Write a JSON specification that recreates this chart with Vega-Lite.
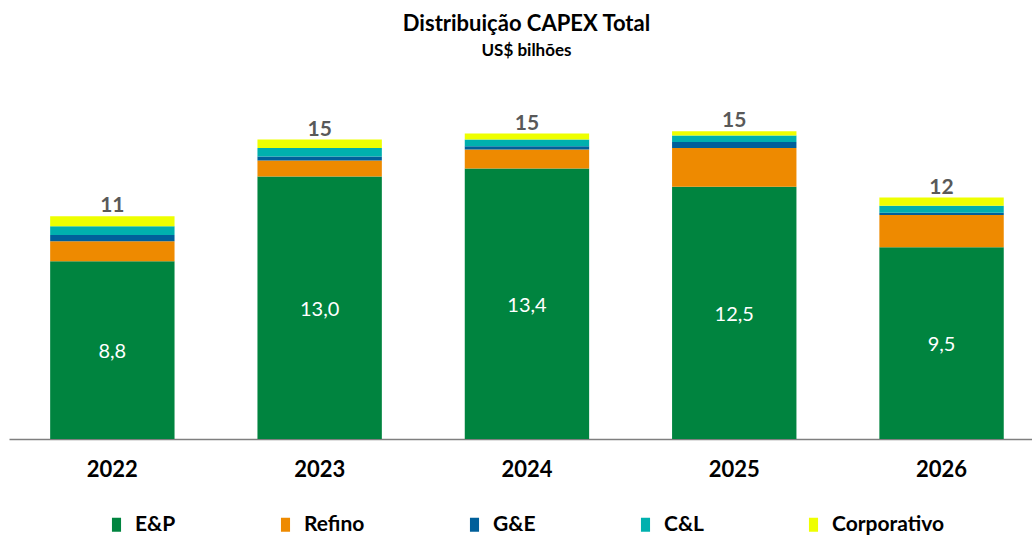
{
  "$schema": "https://vega.github.io/schema/vega-lite/v6.json",
  "autosize": "none",
  "width": 1023,
  "height": 323,
  "padding": {"left": 9, "top": 116, "right": 0, "bottom": 96},
  "background": "white",
  "title": {
    "text": "Distribuição CAPEX Total",
    "subtitle": "US$ bilhões",
    "anchor": "middle",
    "dx": 6,
    "offset": 50,
    "font": "Lato",
    "fontSize": 22,
    "fontWeight": "bold",
    "color": "#000000",
    "subtitleFont": "Lato",
    "subtitleFontSize": 17,
    "subtitleFontWeight": "bold",
    "subtitleColor": "#000000",
    "subtitlePadding": 7
  },
  "data": {
    "values": [
      {"ano": "2022", "seg": "E&P", "valor": 8.8},
      {"ano": "2022", "seg": "Refino", "valor": 1.0},
      {"ano": "2022", "seg": "G&E", "valor": 0.31},
      {"ano": "2022", "seg": "C&L", "valor": 0.43},
      {"ano": "2022", "seg": "Corporativo", "valor": 0.5},
      {"ano": "2023", "seg": "E&P", "valor": 13.0},
      {"ano": "2023", "seg": "Refino", "valor": 0.8},
      {"ano": "2023", "seg": "G&E", "valor": 0.2},
      {"ano": "2023", "seg": "C&L", "valor": 0.42},
      {"ano": "2023", "seg": "Corporativo", "valor": 0.41},
      {"ano": "2024", "seg": "E&P", "valor": 13.4},
      {"ano": "2024", "seg": "Refino", "valor": 0.94},
      {"ano": "2024", "seg": "G&E", "valor": 0.16},
      {"ano": "2024", "seg": "C&L", "valor": 0.33},
      {"ano": "2024", "seg": "Corporativo", "valor": 0.3},
      {"ano": "2025", "seg": "E&P", "valor": 12.5},
      {"ano": "2025", "seg": "Refino", "valor": 1.91},
      {"ano": "2025", "seg": "G&E", "valor": 0.3},
      {"ano": "2025", "seg": "C&L", "valor": 0.33},
      {"ano": "2025", "seg": "Corporativo", "valor": 0.2},
      {"ano": "2026", "seg": "E&P", "valor": 9.5},
      {"ano": "2026", "seg": "Refino", "valor": 1.6},
      {"ano": "2026", "seg": "G&E", "valor": 0.11},
      {"ano": "2026", "seg": "C&L", "valor": 0.35},
      {"ano": "2026", "seg": "Corporativo", "valor": 0.4}
    ]
  },
  "encoding": {
    "x": {
      "field": "ano",
      "type": "nominal",
      "scale": {"paddingInner": 0.4, "paddingOuter": 0.1674, "align": 0.593},
      "axis": {
        "title": null,
        "labelAngle": 0,
        "ticks": false,
        "labelFont": "Lato",
        "labelFontSize": 22,
        "labelFontWeight": "bold",
        "labelColor": "#000000",
        "labelPadding": 20,
        "domainColor": "#7f7f7f",
        "domainWidth": 1.5
      }
    }
  },
  "layer": [
    {
      "transform": [
        {"calculate": "indexof(['E&P','Refino','G&E','C&L','Corporativo'], datum.seg)", "as": "ordem"}
      ],
      "mark": {"type": "bar"},
      "encoding": {
        "y": {
          "field": "valor",
          "type": "quantitative",
          "stack": "zero",
          "scale": {"domain": [0, 16], "nice": false},
          "axis": null
        },
        "color": {
          "field": "seg",
          "type": "nominal",
          "scale": {
            "domain": ["E&P", "Refino", "G&E", "C&L", "Corporativo"],
            "range": ["#00843f", "#ee8a00", "#005f9a", "#00b0ae", "#eeff00"]
          },
          "legend": {
            "title": null,
            "orient": "none",
            "direction": "horizontal",
            "columns": 5,
            "legendX": 97,
            "legendY": 398,
            "padding": 0,
            "columnPadding": 99,
            "symbolType": "M-0.65,-1H0.65V1H-0.65Z",
            "symbolSize": 196,
            "symbolStrokeWidth": 0,
            "labelFont": "Lato",
            "labelFontSize": 21,
            "labelFontWeight": "bold",
            "labelColor": "#000000",
            "labelOffset": 8
          }
        },
        "order": {"field": "ordem", "type": "quantitative", "sort": "ascending"}
      }
    },
    {
      "transform": [
        {"filter": "datum.seg === 'E&P'"},
        {"calculate": "datum.valor / 2", "as": "meio"}
      ],
      "mark": {"type": "text", "font": "Lato", "fontSize": 20, "color": "#ffffff", "baseline": "middle", "dy": 2},
      "encoding": {
        "y": {"field": "meio", "type": "quantitative"},
        "text": {"field": "valor", "type": "quantitative", "format": ".1f"}
      }
    },
    {
      "transform": [
        {"aggregate": [{"op": "sum", "field": "valor", "as": "total"}], "groupby": ["ano"]}
      ],
      "mark": {"type": "text", "font": "Lato", "fontSize": 21, "fontWeight": "bold", "color": "#595959", "baseline": "bottom", "dy": 0},
      "encoding": {
        "y": {"field": "total", "type": "quantitative"},
        "text": {"field": "total", "type": "quantitative", "format": ".0f"}
      }
    }
  ],
  "config": {
    "view": {"stroke": null},
    "locale": {"number": {"decimal": ",", "thousands": ".", "grouping": [3], "currency": ["R$", ""]}}
  }
}
